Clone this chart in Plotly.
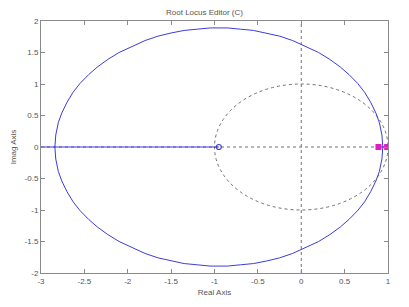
import plotly.graph_objects as go

# Root locus branch (upper half then lower half)
upper_x = [0.94, 0.93, 0.90, 0.86, 0.80, 0.73, 0.65, 0.55, 0.45, 0.33, 0.20,
           0.05, -0.10, -0.25, -0.40, -0.55, -0.70, -0.85, -0.95, -1.05,
           -1.20, -1.35, -1.50, -1.65, -1.80, -1.95, -2.10, -2.23, -2.35,
           -2.45, -2.55, -2.63, -2.70, -2.76, -2.80, -2.83, -2.84]
upper_y = [0.0, 0.19, 0.39, 0.54, 0.71, 0.87, 1.01, 1.15, 1.27, 1.39, 1.50,
           1.60, 1.69, 1.76, 1.81, 1.85, 1.87, 1.89, 1.89, 1.89,
           1.87, 1.85, 1.81, 1.76, 1.69, 1.60, 1.50, 1.39, 1.27,
           1.15, 1.01, 0.87, 0.71, 0.54, 0.39, 0.19, 0.0]
lower_x = [-2.84, -2.83, -2.80, -2.76, -2.70, -2.63, -2.55, -2.45, -2.35,
           -2.23, -2.10, -1.95, -1.80, -1.65, -1.50, -1.35, -1.20, -1.05,
           -0.95, -0.85, -0.70, -0.55, -0.40, -0.25, -0.10, 0.05, 0.20, 0.33,
           0.45, 0.55, 0.65, 0.73, 0.80, 0.86, 0.90, 0.93, 0.94]
lower_y = [0.0, -0.19, -0.39, -0.54, -0.71, -0.87, -1.01, -1.15, -1.27,
           -1.39, -1.50, -1.60, -1.69, -1.76, -1.81, -1.85, -1.87, -1.89,
           -1.89, -1.89, -1.87, -1.85, -1.81, -1.76, -1.69, -1.60, -1.50, -1.39,
           -1.27, -1.15, -1.01, -0.87, -0.71, -0.54, -0.39, -0.19, 0.0]

# Real-axis locus segments
real_seg1_x = [-3.0, -0.95]
real_seg2_x = [0.89, 0.99]

zeros_x = [-0.95]
zeros_y = [0.0]
poles_x = [0.89, 0.99]
poles_y = [0.0, 0.0]

x_ticks = [-3, -2.5, -2, -1.5, -1, -0.5, 0, 0.5, 1]
y_ticks = [-2, -1.5, -1, -0.5, 0, 0.5, 1, 1.5, 2]

BLUE = "#3c3cd8"
MAG = "#e21cc0"
GRAY = "#707070"

fig = go.Figure()

# unit circle (dashed gray)
fig.add_shape(type="circle", x0=-1, y0=-1, x1=1, y1=1, xref="x", yref="y",
              line=dict(color=GRAY, width=1, dash="dot"), layer="below")
# axis lines (dotted)
fig.add_shape(type="line", x0=0, x1=0, y0=-2, y1=2, xref="x", yref="y",
              line=dict(color=GRAY, width=1, dash="dot"), layer="below")
fig.add_shape(type="line", x0=-3, x1=1, y0=0, y1=0, xref="x", yref="y",
              line=dict(color=GRAY, width=1, dash="dot"), layer="below")

for xs, ys in [(upper_x, upper_y), (lower_x, lower_y),
               (real_seg1_x, [0, 0]), (real_seg2_x, [0, 0])]:
    fig.add_trace(go.Scatter(x=xs, y=ys, mode="lines",
                             line=dict(color=BLUE, width=1), hoverinfo="skip"))
fig.add_trace(go.Scatter(x=zeros_x, y=zeros_y, mode="markers",
                         marker=dict(symbol="circle-open", size=5,
                                     color=BLUE, line=dict(width=1.2))))
fig.add_trace(go.Scatter(x=poles_x, y=poles_y, mode="markers",
                         marker=dict(symbol="square", size=6, color=MAG)))

axis_common = dict(
    showgrid=False, zeroline=False, showline=True, linecolor="#8a8a8a",
    linewidth=1, mirror="ticks", ticks="inside", ticklen=4,
    tickcolor="#8a8a8a", tickfont=dict(size=8, color="#555555",
                                        family="Liberation Sans, Arial"),
)

fig.update_layout(
    width=409, height=307,
    margin=dict(l=41, r=21, t=21, b=34),
    paper_bgcolor="white", plot_bgcolor="white",
    showlegend=False,
    font=dict(family="Liberation Sans, Arial", size=8, color="#555555"),
    title=dict(text="Root Locus Editor (C)", x=0.5, xanchor="center",
               y=1 - 12 / 307, yanchor="middle", yref="container",
               font=dict(size=8, color="#555555")),
    xaxis=dict(range=[-3, 1], tickvals=x_ticks,
               ticktext=[f"{v:g}" for v in x_ticks],
               title=dict(text="Real Axis", standoff=4,
                          font=dict(size=8, color="#555555")),
               **axis_common),
    yaxis=dict(range=[-2, 2], tickvals=y_ticks,
               ticktext=[f"{v:g}" for v in y_ticks],
               title=dict(text="Imag Axis", standoff=6,
                          font=dict(size=8, color="#555555")),
               **axis_common),
)

fig.write_html("out.html")
